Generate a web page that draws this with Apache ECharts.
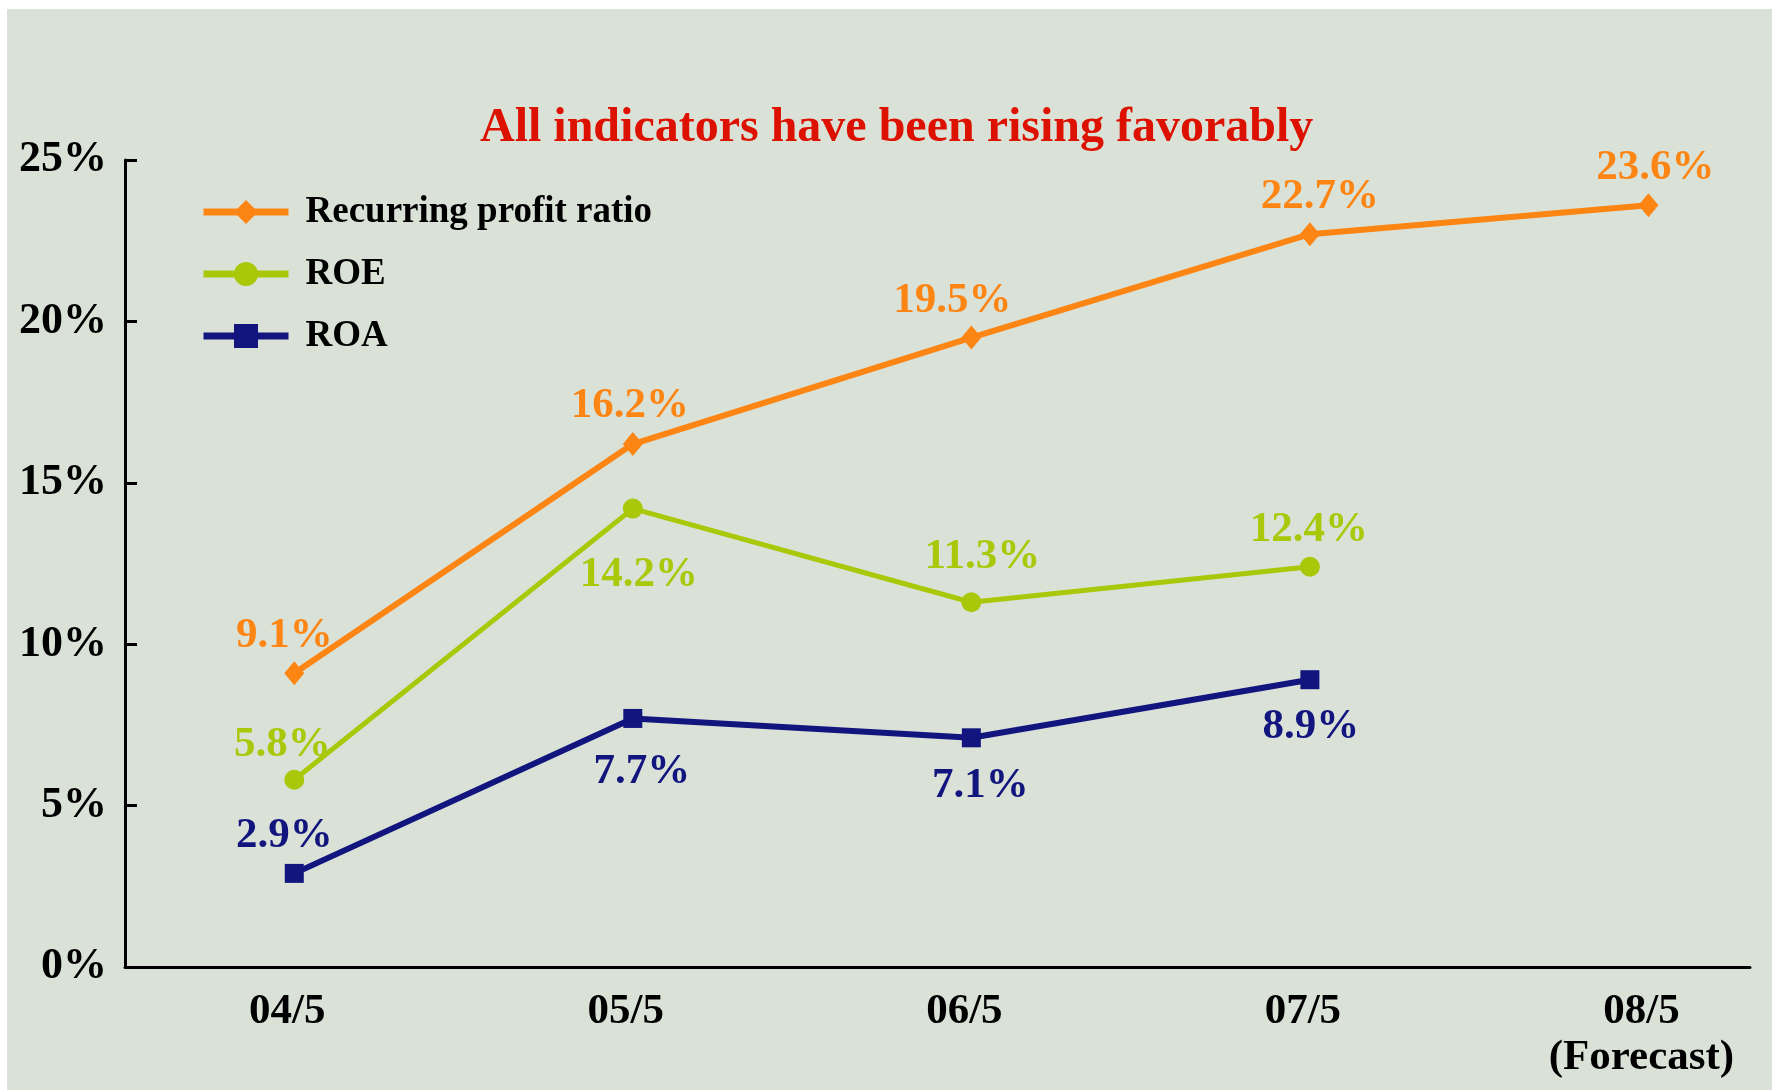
<!DOCTYPE html>
<html>
<head>
<meta charset="utf-8">
<title>All indicators have been rising favorably</title>
<script src="https://cdn.jsdelivr.net/npm/echarts@6.0.0/dist/echarts.min.js"></script>
<style>
  html, body { margin: 0; padding: 0; background: #ffffff; }
  #chart { position: absolute; left: 7px; top: 9px; width: 1765px; height: 1081px; }
</style>
</head>
<body>
<div id="chart"></div>
<script>
// categories (x axis)
const categories = ["04/5", "05/5", "06/5", "07/5", "08/5\n(Forecast)"];
// series values, in %
const profitRatio = [9.1, 16.2, 19.5, 22.7, 23.6];
const roe = [5.8, 14.2, 11.3, 12.4];
const roa = [2.9, 7.7, 7.1, 8.9];
// y axis ticks
const yTicks = [0, 5, 10, 15, 20, 25];

// where each value label sits relative to its point [dx, dy]
const profitLabelOffset = [[-10, -37], [-3, -38], [-19, -37], [10, -37], [7, -37]];
const roeLabelOffset = [[-12, -35], [6, 66], [11, -45], [-1, -37]];
const roaLabelOffset = [[-10, -37], [9, 53], [9, 48], [1, 47]];

const FONT = "'Liberation Serif', 'Times New Roman', serif";

function buildData(values, offsets) {
  return values.map((v, i) => ({
    value: [i, v],
    label: { offset: offsets[i] },
  }));
}

function lineSeries(name, values, offsets, color, symbol, size, width) {
  return {
    name: name,
    type: "line",
    data: buildData(values, offsets),
    symbol: symbol,
    symbolSize: size,
    lineStyle: { color: color, width: width },
    itemStyle: { color: color },
    z: 3,
    label: {
      show: true,
      position: "inside",
      color: color,
      fontFamily: FONT,
      fontWeight: "bold",
      fontSize: 43,
      formatter: (p) => p.value[1].toFixed(1) + "%",
    },
    emphasis: { disabled: true },
  };
}

let chart = echarts.init(document.getElementById("chart"));
chart.setOption({
  backgroundColor: "#dae2d8",
  animation: false,
  textStyle: { fontFamily: FONT },
  title: {
    text: "All indicators have been rising favorably",
    left: 468,
    top: 91,
    textStyle: {
      color: "#dd1100",
      fontFamily: FONT,
      fontWeight: "bold",
      fontSize: 48,
    },
  },
  legend: {
    orient: "vertical",
    left: 188,
    top: 179,
    itemWidth: 85,
    itemHeight: 30,
    itemGap: 24,
    lineStyle: { width: 7 },
    textStyle: {
      color: "#000",
      fontFamily: FONT,
      fontWeight: "bold",
      fontSize: 37,
      lineHeight: 38,
      padding: [0, 0, 0, 12],
    },
    data: ["Recurring profit ratio", "ROE", "ROA"],
  },
  grid: { left: 118, right: 22, top: 151, bottom: 123 },
  xAxis: {
    type: "value",
    min: -0.5,
    max: 4.3,
    splitLine: { show: false },
    axisTick: { show: false },
    axisLine: { lineStyle: { color: "#000", width: 3 } },
    axisLabel: {
      customValues: [0, 1, 2, 3, 4],
      formatter: (v) => categories[Math.round(v)],
      color: "#000",
      fontFamily: FONT,
      fontWeight: "bold",
      fontSize: 43,
      lineHeight: 46,
      margin: 22,
      padding: [0, 14, 0, 0],
    },
  },
  yAxis: {
    type: "value",
    min: yTicks[0],
    max: yTicks[yTicks.length - 1],
    interval: 5,
    splitLine: { show: false },
    axisLine: { show: true, onZero: false, lineStyle: { color: "#000", width: 3 } },
    axisTick: { show: true, inside: true, length: 12, lineStyle: { color: "#000", width: 3 } },
    axisLabel: {
      formatter: "{value}%",
      color: "#000",
      fontFamily: FONT,
      fontWeight: "bold",
      fontSize: 44,
      lineHeight: 44,
      margin: 18,
      padding: [14, 0, 0, 0],
    },
  },
  series: [
    lineSeries("Recurring profit ratio", profitRatio, profitLabelOffset, "#fd8514", "diamond", [20, 24], 6),
    lineSeries("ROE", roe, roeLabelOffset, "#aac80a", "circle", 20, 5),
    lineSeries("ROA", roa, roaLabelOffset, "#13157f", "rect", 19, 6),
  ],
});
</script>
</body>
</html>
